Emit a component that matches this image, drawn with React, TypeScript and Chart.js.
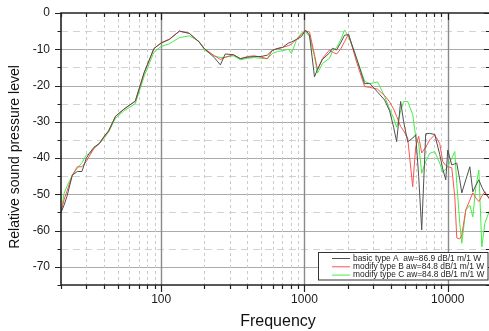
import React, { useEffect, useRef } from 'react';
import { Chart, registerables } from 'chart.js';

Chart.register(...registerables);

const freqs = [20, 21, 22, 24, 26, 28, 30, 31.5, 34, 37, 40, 43, 48, 55, 66, 76, 89, 100, 114, 134, 157, 184, 200, 235, 259, 280, 319, 357, 400, 447, 500, 551, 597, 647, 702, 773, 811, 879, 953, 1016, 1084, 1175, 1233, 1336, 1496, 1570, 1674, 1786, 1905, 2032, 2311, 2630, 2851, 3239, 3626, 3929, 4192, 4398, 4691, 4922, 5252, 5691, 5973, 6268, 6579, 7015, 7482, 8111, 8790, 9228, 9683, 10000, 10666, 11195, 11560, 12130, 12530, 13360, 14260, 14960, 15700, 16480, 17290, 18150, 20000];

const basicA = [-55, -53, -50.6, -44.7, -43.7, -43.7, -40.1, -38.7, -37, -36, -34, -32.5, -28.5, -26.5, -24.3, -16.5, -9.8, -8.3, -7.3, -5.0, -5.6, -8.0, -9.8, -12.3, -14.3, -11.3, -11.5, -12.6, -12.2, -12.0, -12.0, -11.6, -10.3, -9.8, -9.5, -8.3, -8.0, -7.3, -6.5, -4.7, -6.1, -17.6, -15.5, -12.8, -11.0, -9.7, -10.2, -8.3, -6.1, -6.0, -12.5, -19.5, -19.4, -21.8, -24.0, -27.0, -31.5, -35.5, -24.4, -30.0, -35.5, -34.5, -33.6, -45.0, -59.8, -33.3, -33.2, -33.5, -39.0, -43.0, -46.0, -37.8, -41.9, -41.6, -41.4, -46.0, -49.6, -46.0, -42.4, -49.3, -47.5, -46.0, -48.0, -49.6, -51.6];

const modifyB = [-55, -51.5, -49.2, -44.7, -42.4, -42.4, -41.0, -39.5, -37.3, -36, -34.2, -32.5, -28.5, -26.5, -24.3, -16.5, -9.8, -8.2, -7.2, -5.0, -5.6, -8.0, -9.8, -11.8, -12.8, -12.2, -11.5, -12.6, -12.0, -11.8, -12.2, -12.6, -10.3, -9.8, -9.5, -9.0, -8.6, -7.2, -6.0, -5.0, -5.2, -11.5, -15.7, -12.5, -10.2, -10.8, -11.3, -10.0, -7.9, -5.8, -13.5, -20.3, -20.5, -21.0, -22.8, -24.5, -26.5, -28.5, -31.3, -32.5, -34.5, -47.9, -37.0, -34.0, -38.6, -37.0, -35.0, -33.6, -36.0, -41.0, -42.0, -42.3, -42.7, -50.6, -62.0, -62.3, -61.2, -54.3, -51.6, -49.6, -51.0, -52.0, -50.5, -49.3, -52.0];

const modifyC = [-55, -49.8, -47.8, -44.7, -42.8, -41.3, -39.2, -38.9, -37.3, -36, -34.5, -32.8, -29, -27, -25, -17.5, -10.8, -9.2, -8.5, -6.8, -6.3, -7.8, -10.2, -11.8, -12.3, -12.2, -11.8, -12.9, -12.5, -12.3, -12.5, -12.6, -11.2, -10.6, -10.4, -10.0, -11.2, -7.5, -5.5, -5.1, -6.5, -12.0, -16.6, -13.9, -12.5, -10.5, -9.6, -7.5, -4.7, -6.5, -12.5, -18.8, -19.5, -19.0, -23.0, -26.5, -29.0, -31.5, -27.0, -24.4, -24.4, -28.0, -34.0, -36.0, -44.2, -41.0, -38.7, -38.2, -41.4, -44.0, -43.0, -42.4, -40.0, -38.2, -47.0, -58.0, -63.5, -54.3, -53.0, -56.2, -48.0, -43.3, -64.5, -58.0, -53.4];

const seriesLabels = [
  'basic type A  aw=86.9 dB/1 m/1 W',
  'modify type B aw=84.8 dB/1 m/1 W',
  'modify type C aw=84.8 dB/1 m/1 W',
];
const seriesColors = ['#505050', '#ff5050', '#44ee44'];

const xLabelValues = [100, 1000, 10000];
const decades = [10, 100, 1000, 10000];
const xMin = 20;
const xMax = 19400;
const xTitle = 'Frequency';
const yTitle = 'Relative sound pressure level';

const FONT = "'Liberation Sans', Arial, sans-serif";

function logPositions(min: number, max: number) {
  const out: { v: number; major: boolean }[] = [];
  for (const d of decades) {
    for (let m = 1; m <= 9; m++) {
      const v = d * m;
      if (v >= min && v <= max) out.push({ v, major: m === 1 });
    }
  }
  return out;
}

const gridPlugin = {
  id: 'customGrid',
  beforeDatasetsDraw(chart: any) {
    const { ctx, chartArea: a, scales } = chart;
    const x = scales.x;
    const y = scales.y;
    ctx.save();
    for (let v = -70; v <= -5; v += 5) {
      const py = Math.round(y.getPixelForValue(v)) + 0.5;
      ctx.beginPath();
      if (v % 10 === 0) {
        ctx.setLineDash([]);
        ctx.strokeStyle = '#ababab';
      } else {
        ctx.setLineDash([7, 5]);
        ctx.strokeStyle = '#d2d2d2';
      }
      ctx.lineWidth = 1;
      ctx.moveTo(a.left, py);
      ctx.lineTo(a.right, py);
      ctx.stroke();
    }
    for (const p of logPositions(xMin + 1, xMax - 1)) {
      const px = Math.round(x.getPixelForValue(p.v)) + 0.5;
      ctx.beginPath();
      if (p.major) {
        ctx.setLineDash([]);
        ctx.strokeStyle = '#8a8a8a';
        ctx.lineWidth = 1.4;
      } else {
        ctx.setLineDash([3, 3]);
        ctx.strokeStyle = '#cbcbcb';
        ctx.lineWidth = 1;
      }
      ctx.moveTo(px, a.top);
      ctx.lineTo(px, a.bottom);
      ctx.stroke();
    }
    ctx.restore();
  },
};

const framePlugin = {
  id: 'frame',
  afterDatasetsDraw(chart: any) {
    const { ctx, chartArea: a, scales } = chart;
    const x = scales.x;
    const y = scales.y;
    ctx.save();
    ctx.setLineDash([]);
    ctx.strokeStyle = '#222';
    ctx.lineWidth = 1.6;
    ctx.beginPath();
    ctx.moveTo(a.right, a.top);
    ctx.lineTo(a.left, a.top);
    ctx.lineTo(a.left, a.bottom);
    ctx.lineTo(a.right, a.bottom);
    ctx.stroke();
    ctx.lineWidth = 1.2;
    for (let v = -75; v <= 0; v += 5) {
      const py = Math.round(y.getPixelForValue(v)) + 0.5;
      const major = v % 10 === 0;
      const len = major ? 6 : 3.5;
      ctx.beginPath();
      ctx.moveTo(a.left - len, py);
      ctx.lineTo(a.left, py);
      ctx.moveTo(a.right - (major ? 5 : 3), py);
      ctx.lineTo(a.right, py);
      ctx.stroke();
    }
    for (const p of logPositions(xMin, xMax)) {
      const px = Math.round(x.getPixelForValue(p.v)) + 0.5;
      const len = p.major ? 7 : 4;
      ctx.beginPath();
      ctx.moveTo(px, a.top);
      ctx.lineTo(px, a.top + len);
      ctx.moveTo(px, a.bottom);
      ctx.lineTo(px, a.bottom + len);
      ctx.stroke();
    }
    ctx.restore();
  },
};

const overlayPlugin = {
  id: 'overlay',
  afterDraw(chart: any) {
    const { ctx, chartArea: a } = chart;
    ctx.save();
    ctx.fillStyle = '#111';
    ctx.font = `14px ${FONT}`;
    ctx.textAlign = 'center';
    ctx.textBaseline = 'middle';
    ctx.save();
    ctx.translate(15, 157);
    ctx.rotate(-Math.PI / 2);
    ctx.fillText(yTitle, 0, 0);
    ctx.restore();
    ctx.font = `16px ${FONT}`;
    ctx.fillText(xTitle, 278, 322);

    const bx = 318.5;
    const by = 252.5;
    const bw = a.right - 1 - bx;
    const bh = 27.5;
    ctx.fillStyle = '#fff';
    ctx.fillRect(bx, by, bw, bh);
    ctx.strokeStyle = '#333';
    ctx.lineWidth = 1;
    ctx.strokeRect(bx, by, bw, bh);
    ctx.font = `8.4px ${FONT}`;
    ctx.textAlign = 'left';
    ctx.textBaseline = 'middle';
    chart.data.datasets.forEach((ds: any, i: number) => {
      const ry = 258.5 + i * 8.3;
      ctx.strokeStyle = ds.borderColor;
      ctx.lineWidth = 1;
      ctx.beginPath();
      ctx.moveTo(332, ry);
      ctx.lineTo(350, ry);
      ctx.stroke();
      ctx.fillStyle = '#222';
      ctx.fillText(ds.label, 353, ry);
    });
    ctx.restore();
  },
};

export default function App() {
  const ref = useRef<HTMLCanvasElement>(null);
  useEffect(() => {
    document.body.style.margin = '0';
    const canvas = ref.current;
    if (!canvas) return;
    const toPts = (arr: number[]) => freqs.map((f, i) => ({ x: f, y: arr[i] }));
    const seriesData = [basicA, modifyB, modifyC];
    const chart = new Chart(canvas, {
      type: 'line',
      data: {
        datasets: seriesData.map((arr, i) => ({
          label: seriesLabels[i],
          data: toPts(arr),
          borderColor: seriesColors[i],
          backgroundColor: seriesColors[i],
          borderWidth: 1,
          pointRadius: 0,
          tension: 0,
          fill: false,
        })),
      },
      options: {
        responsive: false,
        animation: false,
        layout: { padding: { top: 13, left: 0, right: 0, bottom: 0 } },
        plugins: { legend: { display: false }, tooltip: { enabled: false } },
        scales: {
          x: {
            type: 'logarithmic',
            min: xMin,
            max: xMax,
            grid: { display: false, drawTicks: false },
            border: { display: false },
            ticks: {
              autoSkip: false,
              maxRotation: 0,
              padding: 7,
              color: '#1a1a1a',
              font: { family: FONT, size: 12 },
              callback: (v: any) => (xLabelValues.includes(Number(v)) ? String(v) : ''),
            },
            afterFit: (s: any) => {
              s.height = 46;
              s.paddingLeft = 0;
              s.paddingRight = 0;
            },
          },
          y: {
            type: 'linear',
            min: -75,
            max: 0,
            grid: { display: false, drawTicks: false },
            border: { display: false },
            ticks: {
              stepSize: 5,
              padding: 11,
              color: '#1a1a1a',
              font: { family: FONT, size: 12 },
              callback: (v: any) => (Number(v) % 10 === 0 ? String(v) : ''),
            },
            afterFit: (s: any) => {
              s.width = 61;
              s.paddingTop = 0;
              s.paddingBottom = 0;
            },
          },
        },
      } as any,
      plugins: [gridPlugin, framePlugin, overlayPlugin],
    });
    return () => chart.destroy();
  }, []);
  return <canvas ref={ref} width={489} height={331} style={{ display: 'block' }} />;
}
